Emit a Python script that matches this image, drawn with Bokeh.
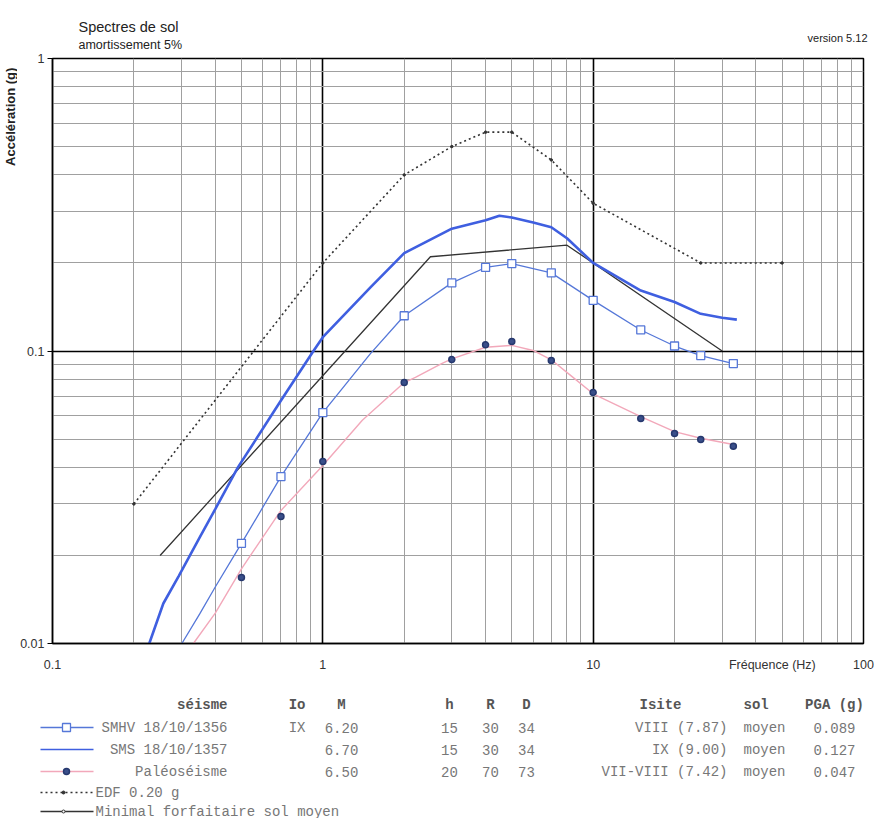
import math
from bokeh.plotting import figure
from bokeh.models import Range1d, FixedTicker, CustomJSTickFormatter
from bokeh.layouts import column, row
from bokeh.embed import file_html
from bokeh.resources import INLINE
from bokeh.core.properties import value

# ---------------- data ----------------
# SMS 18/10/1357 (thick blue line, no markers)
sms_f = [0.228, 0.257, 0.293, 0.35, 0.4, 0.485, 0.7, 0.923, 1.0, 1.5, 2.0, 3.0, 4.0, 4.5, 5.0, 6.0, 7.0, 8.0, 10.0, 15.0, 20.0, 25.0, 30.0, 34.0]
sms_a = [0.010, 0.0137, 0.017, 0.023, 0.0288, 0.040, 0.0677, 0.100, 0.1115, 0.165, 0.216, 0.262, 0.280, 0.290, 0.286, 0.275, 0.265, 0.243, 0.200, 0.161, 0.147, 0.134, 0.130, 0.128]

# SMHV 18/10/1356 (thin blue line, square markers)
smhv_f = [0.301, 0.35, 0.4, 0.5, 0.7, 1.0, 1.5, 2.0, 3.0, 4.0, 5.0, 7.0, 10.0, 15.0, 20.0, 25.0, 33.0]
smhv_a = [0.010, 0.0126, 0.0156, 0.0220, 0.0372, 0.0616, 0.098, 0.132, 0.171, 0.193, 0.199, 0.185, 0.149, 0.118, 0.104, 0.0965, 0.0906]
smhv_mf = [0.5, 0.7, 1.0, 2.0, 3.0, 4.0, 5.0, 7.0, 10.0, 15.0, 20.0, 25.0, 33.0]
smhv_ma = [0.0220, 0.0372, 0.0616, 0.132, 0.171, 0.193, 0.199, 0.185, 0.149, 0.118, 0.104, 0.0965, 0.0906]

# Paléoséisme (pink line, navy circle markers)
paleo_f = [0.332, 0.4, 0.5, 0.7, 1.0, 1.4, 2.0, 2.2, 2.75, 3.0, 4.0, 5.0, 6.0, 7.0, 8.4, 10.0, 15.0, 20.0, 25.0, 33.0]
paleo_a = [0.010, 0.0127, 0.018, 0.0285, 0.0406, 0.058, 0.078, 0.0813, 0.0906, 0.094, 0.103, 0.1045, 0.1004, 0.0933, 0.0814, 0.0714, 0.0597, 0.0530, 0.0503, 0.0479]
paleo_mf = [0.5, 0.7, 1.0, 2.0, 3.0, 4.0, 5.0, 7.0, 10.0, 15.0, 20.0, 25.0, 33.0]
paleo_ma = [0.0168, 0.0272, 0.0419, 0.078, 0.0935, 0.105, 0.1077, 0.0928, 0.0722, 0.0588, 0.0522, 0.0498, 0.0472]

# EDF 0.20 g (dotted black)
edf_f = [0.2, 1.0, 2.0, 3.0, 4.0, 5.0, 7.0, 10.0, 25.0, 50.0]
edf_a = [0.030, 0.20, 0.40, 0.50, 0.56, 0.56, 0.45, 0.32, 0.20, 0.20]

# Minimal forfaitaire sol moyen (solid black)
min_f = [0.25, 2.5, 8.0, 30.0]
min_a = [0.020, 0.21, 0.23, 0.10]

# axes
x_ticks = [0.1, 1, 10, 100]
y_ticks = [0.01, 0.1, 1]
x_title = "Fréquence (Hz)"
x_title_at = 46
y_title = "Accélération (g)"
title_lines = ["Spectres de sol", "amortissement 5%"]
version_txt = "version 5.12"

# table
headers = ["séisme", "Io", "M", "h", "R", "D", "Isite", "sol", "PGA (g)"]
names = ["SMHV 18/10/1356", "SMS 18/10/1357", "Paléoséisme"]
io_vals = ["IX", "", ""]
m_vals = ["6.20", "6.70", "6.50"]
h_vals = ["15", "15", "20"]
r_vals = ["30", "30", "70"]
d_vals = ["34", "34", "73"]
isite_vals = ["VIII (7.87)", "IX (9.00)", "VII-VIII (7.42)"]
sol_vals = ["moyen", "moyen", "moyen"]
pga_vals = ["0.089", "0.127", "0.047"]
extra_names = ["EDF 0.20 g", "Minimal forfaitaire sol moyen"]

# ---------------- styles ----------------
C_THICK = "#3f5fe0"
C_THIN = "#5577d8"
C_PINK = "#f2a8ba"
C_NAVY = "#26386e"
C_NAVY_FILL = "#3a4f8a"
SANS = "Liberation Sans"
MONO = "Liberation Mono"
W = 874


def blank(w, h, xr, yr):
    f = figure(width=w, height=h, x_range=Range1d(*xr), y_range=Range1d(*yr),
               output_backend="svg", toolbar_location=None,
               x_axis_location=None, y_axis_location=None,
               min_border=0, min_border_left=0, min_border_right=0,
               min_border_top=0, min_border_bottom=0)
    f.outline_line_color = None
    f.xgrid.visible = False
    f.ygrid.visible = False
    f.background_fill_color = "white"
    f.border_fill_color = "white"
    return f


# ---------- header (layout px: x 0..874, y 0..50) ----------
hd = blank(W, 50, (0, W), (50, 0))
hd.text(x=[78], y=[26], text=[title_lines[0]], text_font=value(SANS), text_font_size="14.5px",
        text_color="#222222", text_baseline="alphabetic")
hd.text(x=[78], y=[44], text=[title_lines[1]], text_font=value(SANS), text_font_size="12.5px",
        text_color="#222222", text_baseline="alphabetic")
hd.text(x=[867], y=[37], text=[version_txt], text_font=value(SANS), text_font_size="11px",
        text_color="#222222", text_baseline="alphabetic", text_align="right")

# ---------- y title strip (layout px: x 0..17, y 50..688) ----------
ST_W = 17
st = blank(ST_W, 638, (0, ST_W), (688, 50))
st.text(x=[10], y=[60], text=[y_title], angle=math.pi / 2, text_font=value(SANS),
        text_font_size="13px", text_font_style="bold", text_color="#222222",
        text_align="right", text_baseline="middle")

# ---------- main chart ----------
minor = [k * 10 ** e for e in (-2, -1, 0, 1) for k in range(2, 10)]

p = figure(width=W - ST_W, height=638, x_axis_type="log", y_axis_type="log",
           x_range=Range1d(0.1, 100), y_range=Range1d(0.01, 1),
           output_backend="svg", toolbar_location=None,
           min_border_left=35, min_border_right=11, min_border_top=8, min_border_bottom=45)
p.background_fill_color = "white"
p.border_fill_color = "white"
p.outline_line_color = "black"
p.outline_line_width = 1.5

fmt = CustomJSTickFormatter(code="return tick.toString();")
p.xaxis.ticker = FixedTicker(ticks=x_ticks + [x_title_at], minor_ticks=minor)
p.xaxis.major_label_overrides = {x_title_at: x_title}
p.yaxis.ticker = FixedTicker(ticks=y_ticks, minor_ticks=minor)
p.xgrid.ticker = FixedTicker(ticks=x_ticks, minor_ticks=minor)
p.ygrid.ticker = FixedTicker(ticks=y_ticks, minor_ticks=minor)
for ax in (p.xaxis, p.yaxis):
    ax.formatter = fmt
    ax.axis_line_color = "black"
    ax.axis_line_width = 1.5
    ax.major_tick_line_color = "black"
    ax.major_tick_in = 0
    ax.minor_tick_line_color = None
    ax.major_label_text_font = SANS
    ax.major_label_text_font_size = "12.5px"
    ax.major_label_text_color = "#333333"
p.xaxis.major_tick_out = 0
p.yaxis.major_tick_out = 5
p.xaxis.major_label_standoff = 10
p.yaxis.major_label_standoff = 3

for g in (p.xgrid, p.ygrid):
    g.grid_line_color = "black"
    g.grid_line_width = 1.6
    g.minor_grid_line_color = "#a0a0a0"
    g.minor_grid_line_width = 1

# curves
p.line(edf_f, edf_a, line_color="#333333", line_width=1.6, line_dash="2 3")
p.scatter(edf_f, edf_a, marker="circle", size=2.5, fill_color="#333333", line_color="#333333")
p.line(min_f, min_a, line_color="#333333", line_width=1.3)
p.line(sms_f, sms_a, line_color=C_THICK, line_width=2.6)
p.line(smhv_f, smhv_a, line_color=C_THIN, line_width=1.3)
p.scatter(smhv_mf, smhv_ma, marker="square", size=8, fill_color="white", line_color=C_THIN, line_width=1.3)
p.line(paleo_f, paleo_a, line_color=C_PINK, line_width=1.4)
p.scatter(paleo_mf, paleo_ma, marker="circle", size=6, fill_color=C_NAVY_FILL, line_color=C_NAVY, line_width=1.5)

# ---------- legend table (layout px: x 0..874, y 688..818) ----------
q = blank(W, 130, (0, W), (818, 688))

hy = 704
rows = [727, 749, 771]
extra_rows = [792, 811]
TXT = dict(text_font=value(MONO), text_font_size="14px", text_color="#777777", text_baseline="middle")
HDR = dict(text_font=value(MONO), text_font_size="14px", text_color="#555555", text_baseline="middle",
           text_font_style="bold")

col_x = {"séisme": 227, "Io": 305, "M": 341, "h": 449, "R": 490, "D": 526, "Isite": 660, "sol": 743, "PGA (g)": 834}
col_align = {"séisme": "right", "Io": "right", "M": "center", "h": "center", "R": "center", "D": "center",
             "Isite": "center", "sol": "left", "PGA (g)": "center"}
for hname in headers:
    q.text(x=[col_x[hname]], y=[hy], text=[hname], text_align=col_align[hname], **HDR)

q.text(x=[227] * 3, y=rows, text=names, text_align="right", **TXT)
q.text(x=[305] * 3, y=rows, text=io_vals, text_align="right", **TXT)
q.text(x=[341] * 3, y=rows, text=m_vals, text_align="center", **TXT)
q.text(x=[449] * 3, y=rows, text=h_vals, text_align="center", **TXT)
q.text(x=[490] * 3, y=rows, text=r_vals, text_align="center", **TXT)
q.text(x=[526] * 3, y=rows, text=d_vals, text_align="center", **TXT)
q.text(x=[727] * 3, y=rows, text=isite_vals, text_align="right", **TXT)
q.text(x=[743] * 3, y=rows, text=sol_vals, text_align="left", **TXT)
q.text(x=[834] * 3, y=rows, text=pga_vals, text_align="center", **TXT)
q.text(x=[95] * 2, y=extra_rows, text=extra_names, text_align="left", **TXT)

# legend samples
q.line([40, 93], [rows[0]] * 2, line_color=C_THIN, line_width=1.3)
q.scatter([66], [rows[0]], marker="square", size=8, fill_color="white", line_color=C_THIN, line_width=1.3)
q.line([40, 93], [rows[1]] * 2, line_color=C_THICK, line_width=1.6)
q.line([40, 93], [rows[2]] * 2, line_color=C_PINK, line_width=1.3)
q.scatter([66], [rows[2]], marker="circle", size=6, fill_color=C_NAVY_FILL, line_color=C_NAVY, line_width=1.5)
q.line([40, 93], [extra_rows[0]] * 2, line_color="#333333", line_width=1.4, line_dash="2 3")
q.scatter([63], [extra_rows[0]], marker="circle", size=3, fill_color="#333333", line_color="#333333")
q.line([40, 93], [extra_rows[1]] * 2, line_color="#333333", line_width=1.4)
q.scatter([63], [extra_rows[1]], marker="circle", size=3, fill_color="white", line_color="#333333")

layout = column(hd, row(st, p, spacing=0), q, spacing=0)
open("out.html", "w").write(file_html(layout, INLINE))
